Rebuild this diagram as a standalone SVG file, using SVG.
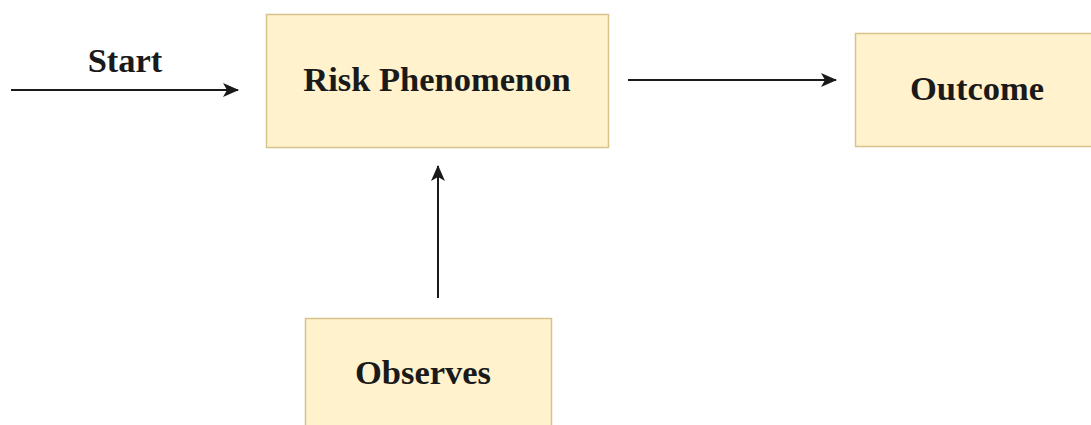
<svg xmlns="http://www.w3.org/2000/svg" width="1091" height="425" viewBox="0 0 1091 425">
<style>
.box{fill:#fff2cc;stroke:#d6c38c;stroke-width:1.5}
.lbl{font-family:"Liberation Serif",serif;font-weight:bold;font-size:34.5px;fill:#1a1a1a;text-anchor:middle}
.edge{stroke:#1a1a1a;stroke-width:2;fill:none}
</style>
<defs>
<marker id="arr" viewBox="0 0 16 14" refX="15" refY="7" markerWidth="16" markerHeight="14" markerUnits="userSpaceOnUse" orient="auto">
<path d="M0,0 L16,7 L0,14 L4,7 Z" fill="#1a1a1a"/>
</marker>
</defs>
<rect width="1091" height="425" fill="#ffffff"/>
<g id="connectors">
<line class="edge" x1="11" y1="90" x2="238" y2="90" marker-end="url(#arr)"/>
<line class="edge" x1="628" y1="80" x2="836" y2="80" marker-end="url(#arr)"/>
<line class="edge" x1="438" y1="298" x2="438" y2="166" marker-end="url(#arr)"/>
<text class="lbl" x="125" y="72">Start</text>
</g>
<g id="risk">
<rect class="box" x="266.5" y="14.5" width="342" height="133"/>
<text class="lbl" x="437" y="91">Risk Phenomenon</text>
</g>
<g id="outcome">
<rect class="box" x="855.5" y="33.5" width="250" height="113"/>
<text class="lbl" x="977" y="100">Outcome</text>
</g>
<g id="observes">
<rect class="box" x="305.5" y="318.5" width="246" height="130"/>
<text class="lbl" x="423" y="384">Observes</text>
</g>
</svg>
